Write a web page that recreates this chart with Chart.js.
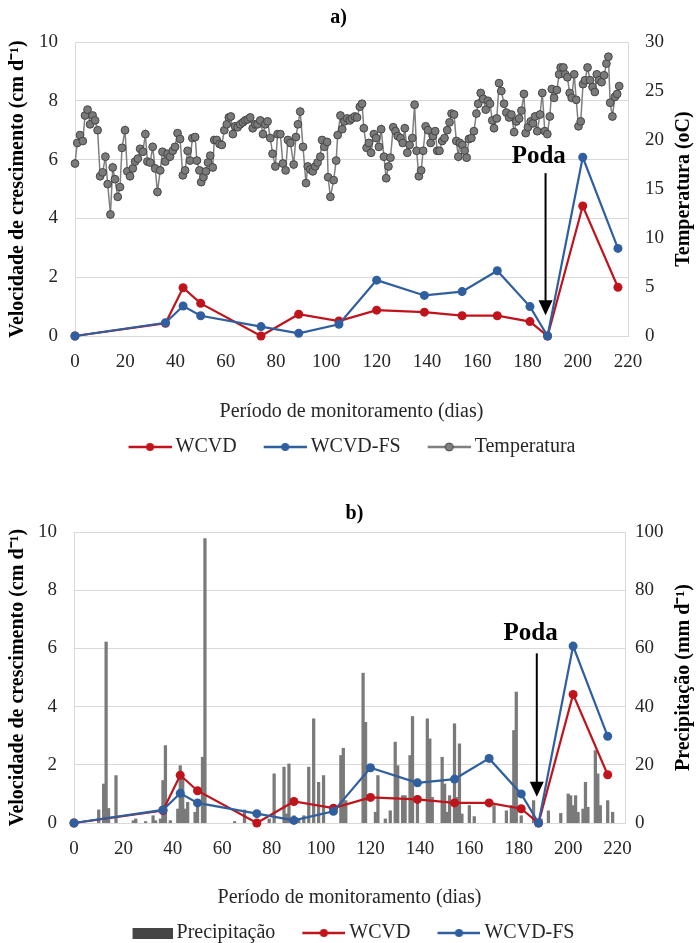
<!DOCTYPE html>
<html><head><meta charset="utf-8">
<script src="https://cdn.jsdelivr.net/npm/chart.js@4.4.1/dist/chart.umd.min.js"></script>
<style>
html,body{margin:0;padding:0;background:#fff;overflow:hidden;width:697px;height:943px}
canvas{position:absolute;left:0}
#ca{top:0}
#cb{top:480px}
</style></head><body>
<canvas id="ca" width="697" height="467"></canvas>
<canvas id="cb" width="697" height="473"></canvas>
<script>
// ---- data ----
const growthDays = [0,36,43,50,74,89,105,120,139,154,168,181,188,202,216];
const wcvd   = [0,0.43,1.64,1.11,0,0.74,0.51,0.88,0.81,0.69,0.69,0.49,0,4.42,1.66];
const wcvdFs = [0,0.45,1.02,0.69,0.32,0.09,0.40,1.90,1.38,1.51,2.22,1.00,0,6.08,2.98];

const tempDays = [0,0.9,2.0,3.1,4.0,5.0,6.0,7.0,8.0,9.0,
10.0,11.0,12.1,13.0,14.1,15.0,15.9,17.0,17.9,18.7,
19.9,20.8,21.9,23.0,23.9,25.0,25.9,27.0,28.0,28.8,
29.9,30.9,31.9,32.8,33.9,34.8,35.9,36.8,37.8,38.9,
39.8,40.8,41.8,42.9,43.8,44.8,45.8,46.7,47.8,48.5,
49.5,50.2,51.1,52.1,52.9,53.8,54.8,55.4,56.4,57.5,
58.4,59.4,60.4,61.2,62.0,62.8,63.7,64.7,65.7,66.8,
67.7,68.7,69.7,70.7,71.7,72.6,73.7,74.8,75.7,76.6,
77.7,78.6,79.7,80.6,81.7,82.7,83.8,84.7,85.7,87.0,
87.9,88.7,89.6,90.7,91.9,92.6,93.6,94.6,95.6,96.5,
97.6,98.3,99.2,100.3,100.7,101.6,102.9,103.9,104.5,105.6,
106.3,107.2,108.3,109.3,110.2,111.3,112.2,113.3,114.2,114.9,
116.0,116.9,117.8,118.9,119.8,120.9,121.8,122.9,123.8,124.7,
125.5,126.6,127.5,128.4,129.5,130.4,131.2,132.2,133.1,134.2,
135.1,135.9,136.8,137.7,138.5,139.5,140.4,141.5,142.4,143.3,
144.1,145.0,146.1,147.0,148.1,149.0,149.8,150.8,151.7,152.5,
153.1,154.1,155.0,155.8,156.7,157.7,158.7,159.7,160.4,161.4,
162.4,163.4,164.3,165.1,166.0,166.7,167.8,168.7,169.6,170.7,
171.6,172.7,173.6,174.7,175.6,176.7,177.6,178.6,179.3,180.2,
181.3,182.2,183.0,183.9,185.0,185.9,186.9,187.9,188.9,189.7,
190.6,191.7,192.6,193.2,194.3,195.0,195.9,196.8,197.6,198.6,
199.4,200.3,201.2,202.1,202.9,203.9,204.9,205.9,206.8,207.6,
208.5,209.5,210.5,211.4,212.2,212.9,213.8,214.8,215.7,216.5];
const tempValues = [17.6,19.7,20.5,19.9,22.5,23.1,21.6,22.5,22.0,21.0,
16.3,16.7,18.3,15.5,12.4,17.2,16.0,14.2,15.2,19.2,
21.0,16.8,16.3,17.1,17.8,18.1,19.1,18.8,20.6,17.8,
17.7,19.3,17.1,14.7,16.9,18.8,17.8,18.6,18.3,18.9,
19.3,20.7,20.1,16.4,16.9,18.9,17.9,20.2,20.3,17.9,
16.9,15.7,16.2,16.8,17.7,18.4,17.2,20.0,20.0,19.6,
19.5,21.0,21.6,22.3,22.4,20.6,21.4,21.3,21.6,21.8,
22.0,22.1,22.3,21.2,21.6,21.6,22.0,20.6,21.6,21.9,
20.2,18.6,17.3,20.6,20.6,17.6,16.9,20.0,19.7,17.5,
20.3,21.6,22.9,19.3,15.6,17.3,17.0,16.8,17.3,17.7,
18.3,20.0,19.3,19.8,16.2,14.2,15.9,17.9,20.5,22.5,
21.1,21.9,22.2,22.0,22.2,22.4,22.3,23.4,23.7,21.2,
19.2,19.7,18.7,20.6,20.2,19.3,21.1,18.3,16.1,17.3,
18.2,21.3,20.9,20.4,20.2,19.7,21.2,18.7,19.5,20.2,
23.6,18.9,16.3,16.9,18.9,21.4,21.0,19.7,20.4,20.9,
18.9,18.9,19.9,20.2,21.0,21.8,22.7,22.6,19.9,18.3,
19.7,19.5,18.9,18.2,20.1,20.2,20.9,22.7,23.7,24.8,
24.2,23.1,24.0,23.7,22.0,21.2,22.2,25.8,25.0,23.7,
22.8,22.3,22.6,20.8,21.9,22.2,23.0,24.7,20.7,21.3,
21.9,21.7,22.4,20.9,22.6,24.8,20.9,20.6,22.4,25.2,
24.3,25.1,26.7,27.4,27.4,26.7,26.4,24.8,24.3,26.7,
24.1,21.4,21.9,25.7,26.1,27.4,26.1,25.4,24.9,26.7,
26.1,25.9,26.6,27.8,28.5,23.8,22.4,24.4,24.7,25.5];

const rainDays = [10,12,13,14,17,24,25,29,32,33,35,36,37,39,42,43,44,45,46,49,50,52,53,65,69,79,81,85,86,87,89,91,93,95,97,99,101,108,109,110,117,118,122,123,126,128,130,131,133,134,136,137,139,143,144,145,149,150,151,152,154,155,156,157,160,162,170,175,177,178,179,181,186,189,192,197,200,201,202,203,204,206,207,208,211,212,213,216,218];
const rainValues = [4.5,13.4,62.2,5.0,16.3,0.8,1.4,0.5,2.5,0.8,1.4,14.6,26.6,0.8,4.8,19.7,15.7,4.8,7.1,3.7,7.1,22.6,97.7,0.5,4.5,1.4,16.9,19.2,3.1,20.3,2.5,1.4,2.5,19.2,35.8,14.0,16.3,23.2,25.7,7.7,51.5,34.6,3.7,16.3,1.4,4.2,27.8,19.7,9.4,9.4,23.2,36.6,9.4,35.8,28.9,8.8,22.6,13.4,3.7,9.4,34.1,8.8,27.2,3.1,6.0,2.2,6.0,4.2,6.0,31.8,45.0,2.5,7.7,1.4,4.2,3.3,10.0,9.4,6.0,9.4,3.7,4.8,14.0,5.4,24.9,16.9,6.0,7.7,3.7];

const xTicks = [0,20,40,60,80,100,120,140,160,180,200,220];
const yTicks = [0,2,4,6,8,10];
const tempTicks = [0,5,10,15,20,25,30];
const rainTicks = [0,20,40,60,80,100];
const podaDay = 188;

// ---- styling ----
const FONT = '"Liberation Serif", "Times New Roman", serif';
Chart.defaults.font.family = FONT;
const RED = '#c0141c', BLUE = '#2f5f9e', GRAY = '#7f7f7f', GRAYB = '#454545', TXT = '#262626';

function lineSym(color, border) {
  const c = document.createElement('canvas'); c.width = 56; c.height = 12;
  const g = c.getContext('2d');
  g.strokeStyle = color; g.lineWidth = 2.5;
  g.beginPath(); g.moveTo(13, 6); g.lineTo(56, 6); g.stroke();
  g.fillStyle = color; g.beginPath(); g.arc(34.5, 6, 4, 0, Math.PI * 2); g.fill();
  if (border) { g.strokeStyle = border; g.lineWidth = 1; g.stroke(); }
  return c;
}
function boxSym(color) {
  const c = document.createElement('canvas'); c.width = 56; c.height = 11;
  const g = c.getContext('2d'); g.fillStyle = color; g.fillRect(16, 0, 40, 11);
  return c;
}
const pts = (xs, ys) => xs.map((x, i) => ({x, y: ys[i]}));
const setTicks = arr => s => { s.ticks = arr.map(v => ({value: v})); };

const podaPlugin = {
  id: 'poda',
  afterDatasetsDraw(chart, args, o) {
    const ctx = chart.ctx, xs = chart.scales.x, ys = chart.scales.y;
    const xa = xs.getPixelForValue(o.arrowDay), xt = xs.getPixelForValue(o.textDay);
    const y0 = ys.getPixelForValue(o.arrowFrom), y1 = ys.getPixelForValue(o.arrowTo);
    ctx.save();
    ctx.fillStyle = '#000'; ctx.strokeStyle = '#000';
    ctx.font = 'bold 25px ' + FONT; ctx.textAlign = 'center'; ctx.textBaseline = 'middle';
    ctx.fillText('Poda', xt, ys.getPixelForValue(o.textVal));
    ctx.lineWidth = 2;
    ctx.beginPath(); ctx.moveTo(xa, y0); ctx.lineTo(xa, y1 - 13); ctx.stroke();
    ctx.beginPath(); ctx.moveTo(xa - 7, y1 - 15); ctx.lineTo(xa + 7, y1 - 15); ctx.lineTo(xa, y1); ctx.closePath(); ctx.fill();
    ctx.restore();
  }
};
const sideTitle = {
  id: 'sideTitle',
  afterDraw(chart, args, o) {
    const s = chart.scales.y1, ctx = chart.ctx;
    ctx.save();
    ctx.translate(s.right - o.offset, (s.top + s.bottom) / 2);
    ctx.rotate(-Math.PI / 2);
    ctx.font = 'bold 20px ' + FONT; ctx.fillStyle = '#000';
    ctx.textAlign = 'center'; ctx.textBaseline = 'middle';
    ctx.fillText(o.text, 0, 0);
    ctx.restore();
  }
};
const panelTitle = {
  id: 'panelTitle',
  afterDraw(chart, args, o) {
    const ctx = chart.ctx;
    ctx.save();
    ctx.font = 'bold 20px ' + FONT; ctx.fillStyle = '#000';
    ctx.textAlign = 'center'; ctx.textBaseline = 'middle';
    ctx.fillText(o.text, chart.width / 2 + o.dx, chart.chartArea.top - o.above);
    ctx.restore();
  }
};

function legendOpts() {
  return {
    position: 'bottom',
    labels: {
      usePointStyle: true, pointStyleWidth: 44, padding: 20, color: TXT,
      font: {size: 20},
      generateLabels: chart => chart.data.datasets.map((ds, i) => ({
        text: ds.label, pointStyle: ds.legendSym, fillStyle: 'rgba(0,0,0,0)',
        strokeStyle: 'rgba(0,0,0,0)', lineWidth: 0, hidden: false, datasetIndex: i, fontColor: TXT
      }))
    }
  };
}
function xScale(max, h) {
  return {
    type: 'linear', min: 0, max: max, offset: false, afterBuildTicks: setTicks(xTicks),
    afterFit: s => { s.height = h; },
    grid: {display: false, drawTicks: false},
    border: {display: true, color: '#d9d9d9'},
    ticks: {padding: 15, font: {size: 19}, color: TXT, maxRotation: 0, autoSkip: false},
    title: {display: true, text: 'Período de monitoramento (dias)', color: TXT,
            font: {size: 20, lineHeight: 0.5}, padding: {top: 0, bottom: 0}}
  };
}
function yScale(w) {
  return {
    position: 'left', min: 0, max: 10, afterBuildTicks: setTicks(yTicks),
    afterFit: s => { s.width = w; },
    grid: {color: '#d9d9d9', drawTicks: false},
    border: {display: true, color: '#d9d9d9'},
    ticks: {padding: 17, font: {size: 19}, color: TXT},
    title: {display: true, text: 'Velocidade de crescimento (cm d\u207B\u00B9)', color: '#000',
            font: {size: 20, weight: 'bold'}, padding: {top: 6, bottom: 0}}
  };
}
function y1Scale(max, ticks, w, pad) {
  return {
    position: 'right', min: 0, max: max, afterBuildTicks: setTicks(ticks),
    afterFit: s => { s.width = w; },
    grid: {display: false, drawTicks: false},
    border: {display: true, color: '#d9d9d9'},
    ticks: {padding: pad, font: {size: 19}, color: TXT}
  };
}
const lineDs = (label, days, vals, color, order) => ({
  type: 'line', label, data: pts(days, vals), yAxisID: 'y', order,
  borderColor: color, backgroundColor: color, borderWidth: 2.2,
  pointRadius: 4.5, pointBackgroundColor: color, pointBorderColor: color, pointBorderWidth: 0,
  tension: 0, clip: false, legendSym: lineSym(color)
});

// ---- chart a ----
new Chart(document.getElementById('ca'), {
  type: 'line',
  data: {datasets: [
    lineDs('WCVD', growthDays, wcvd, RED, 1),
    lineDs('WCVD-FS', growthDays, wcvdFs, BLUE, 0),
    {type: 'line', label: 'Temperatura', data: pts(tempDays, tempValues), yAxisID: 'y1', order: 2,
     borderColor: GRAY, borderWidth: 1.5, pointRadius: 3.9, pointBackgroundColor: '#7a7a7a',
     pointBorderColor: GRAYB, pointBorderWidth: 1, tension: 0, clip: false,
     legendSym: lineSym(GRAY, GRAYB)}
  ]},
  options: {
    responsive: false, animation: false, events: [],
    layout: {padding: {top: 42}},
    scales: {x: xScale(220, 81), y: yScale(75), y1: y1Scale(30, tempTicks, 69, 17)},
    plugins: {
      title: {display: false},
      panelTitle: {text: 'a)', dx: -10, above: 24},
      legend: legendOpts(), tooltip: {enabled: false},
      poda: {arrowDay: podaDay - 0.8, textDay: podaDay - 3.5, textVal: 6.09, arrowFrom: 5.54, arrowTo: 0.71},
      sideTitle: {text: 'Temperatura (oC)', offset: 13}
    }
  },
  plugins: [podaPlugin, sideTitle, panelTitle]
});

// ---- chart b ----
new Chart(document.getElementById('cb'), {
  type: 'line',
  data: {datasets: [
    {type: 'bar', label: 'Precipitação', data: pts(rainDays, rainValues), yAxisID: 'y1', order: 3,
     backgroundColor: '#7a7a7a', barThickness: 2.6, legendSym: boxSym('#454545')},
    lineDs('WCVD', growthDays, wcvd, RED, 1),
    lineDs('WCVD-FS', growthDays, wcvdFs, BLUE, 0)
  ]},
  options: {
    responsive: false, animation: false, events: [],
    layout: {padding: {top: 52}},
    scales: {x: xScale(223, 80), y: yScale(74), y1: y1Scale(100, rainTicks, 72, 10)},
    plugins: {
      title: {display: false},
      panelTitle: {text: 'b)', dx: 6, above: 18},
      legend: legendOpts(), tooltip: {enabled: false},
      poda: {arrowDay: podaDay - 0.7, textDay: podaDay - 3.2, textVal: 6.51, arrowFrom: 5.83, arrowTo: 0.9},
      sideTitle: {text: 'Precipitação (mm d\u207B\u00B9)', offset: 13}
    }
  },
  plugins: [podaPlugin, sideTitle, panelTitle]
});
</script>
</body></html>
